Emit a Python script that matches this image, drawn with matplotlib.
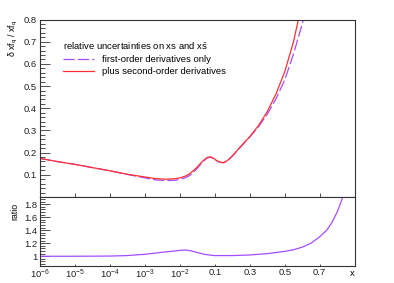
import numpy as np
import matplotlib
matplotlib.use('Agg')
import matplotlib.pyplot as plt
from matplotlib.ticker import FixedLocator, MultipleLocator

plt.rcParams['font.family'] = 'Liberation Sans'
plt.rcParams['mathtext.default'] = 'regular'

# x values where the curves were read
x_top = [1e-6, 3e-6, 1e-5, 3e-5, 1e-4, 3e-4, 1e-3, 2e-3, 4e-3, 7e-3, 0.01, 0.015,
         0.02, 0.03, 0.045, 0.06, 0.075, 0.09, 0.11, 0.13, 0.15, 0.17, 0.2, 0.25,
         0.3, 0.35, 0.4, 0.45, 0.5, 0.55, 0.6, 0.65]
first_order = [0.174, 0.160, 0.147, 0.133, 0.118, 0.102, 0.086, 0.077, 0.074, 0.075,
               0.079, 0.088, 0.099, 0.125, 0.158, 0.176, 0.179, 0.174, 0.163, 0.156,
               0.154, 0.162, 0.184, 0.228, 0.270, 0.317, 0.373, 0.443, 0.528, 0.645,
               0.78, 0.97]
second_order = [0.174, 0.160, 0.147, 0.133, 0.118, 0.103, 0.090, 0.083, 0.080, 0.082,
                0.086, 0.095, 0.107, 0.132, 0.162, 0.178, 0.181, 0.175, 0.164, 0.157,
                0.155, 0.163, 0.185, 0.230, 0.272, 0.322, 0.385, 0.465, 0.565, 0.70,
                0.88, 1.10]

x_ratio = [1e-6, 1e-5, 1e-4, 3e-4, 1e-3, 3e-3, 0.01, 0.015, 0.02, 0.03, 0.05, 0.08,
           0.1, 0.2, 0.3, 0.4, 0.5, 0.55, 0.6, 0.65, 0.7, 0.74, 0.77, 0.8, 0.82, 0.835]
ratio = [1.0, 1.0, 1.003, 1.01, 1.03, 1.06, 1.09, 1.095, 1.085, 1.06, 1.03, 1.015,
         1.01, 1.01, 1.02, 1.04, 1.075, 1.10, 1.14, 1.20, 1.30, 1.40, 1.52, 1.68,
         1.82, 1.95]

xticks = [1e-6, 1e-5, 1e-4, 1e-3, 1e-2, 0.1, 0.3, 0.5, 0.7]
xlabels = ['$10^{-6}$', '$10^{-5}$', '$10^{-4}$', '$10^{-3}$', '$10^{-2}$',
           '0.1', '0.3', '0.5', '0.7']


# log below 0.1, linear (0.2 per decade width) above
def fwd(x):
    x = np.asarray(x, dtype=float)
    lg = np.log10(np.clip(x, 1e-12, None)) + 6
    return np.where(x <= 0.1, lg, 5 + (x - 0.1) / 0.2)


def inv(u):
    u = np.asarray(u, dtype=float)
    return np.where(u <= 5, 10 ** (np.minimum(u, 5) - 6), 0.1 + (u - 5) * 0.2)


purple = '#a64dff'
red = '#ff3030'
frame = '#333333'
fs = 6.8

fig = plt.figure(figsize=(3.94, 2.83), dpi=100)
ax = fig.add_axes([0.1015, 0.304, 0.7988, 0.627])
ax2 = fig.add_axes([0.1015, 0.060, 0.7988, 0.244])

for a in (ax, ax2):
    a.set_xscale('function', functions=(fwd, inv))
    a.set_xlim(1e-6, 0.9)
    a.xaxis.set_major_locator(FixedLocator(xticks))
    a.xaxis.set_minor_locator(FixedLocator([]))
    for s in a.spines.values():
        s.set_color(frame)
        s.set_linewidth(0.8)
    a.tick_params(axis='both', which='both', direction='in', colors=frame,
                  labelcolor='#222222', labelsize=fs, width=0.6)
    a.tick_params(axis='y', which='major', length=7, pad=2)
    a.tick_params(axis='y', which='minor', length=3.5)

ax.plot(x_top, first_order, color=purple, lw=0.9, dashes=(9, 2.5), label='first-order derivatives only')
ax.plot(x_top, second_order, color=red, lw=0.9, label='plus second-order derivatives')
ax.set_ylim(0, 0.8)
ax.yaxis.set_major_locator(FixedLocator([0.1, 0.2, 0.3, 0.4, 0.5, 0.6, 0.7, 0.8]))
ax.yaxis.set_minor_locator(MultipleLocator(0.02))
ax.tick_params(axis='x', length=3, labelbottom=False)
ax.set_ylabel(r'$\delta$ xf$_q$ / xf$_q$', loc='top', fontsize=6.3)
ax.yaxis.set_label_coords(-0.064, 1.0)

leg = ax.legend(loc='upper left', bbox_to_anchor=(0.072, 0.885), frameon=False,
                fontsize=fs, handlelength=3.3, handletextpad=0.9, labelspacing=0.3,
                borderpad=0, borderaxespad=0, handleheight=0.6,
                title='relative uncertainties on $xs$ and $x\\bar{s}$', title_fontsize=fs,
                alignment='left')
leg.get_title().set_math_fontfamily('stix')
leg._legend_box.sep = 3

ax2.plot(x_ratio, ratio, color=purple, lw=0.9)
ax2.set_ylim(0.85, 1.91)
ax2.yaxis.set_major_locator(FixedLocator([1.0, 1.2, 1.4, 1.6, 1.8]))
ax2.yaxis.set_minor_locator(MultipleLocator(0.04))
ax2.yaxis.set_major_formatter(plt.FuncFormatter(lambda v, p: f'{v:g}'))
ax2.tick_params(axis='x', length=1.5, pad=1.5)
ax2.set_xticklabels(xlabels)
ax2.set_ylabel('ratio', loc='top', fontsize=6.3)
ax2.yaxis.set_label_coords(-0.064, 0.91)
ax2.set_xlabel('x', loc='right', fontsize=fs)
ax2.xaxis.set_label_coords(1.0, -0.04)

fig.savefig('out.png', dpi=100)
